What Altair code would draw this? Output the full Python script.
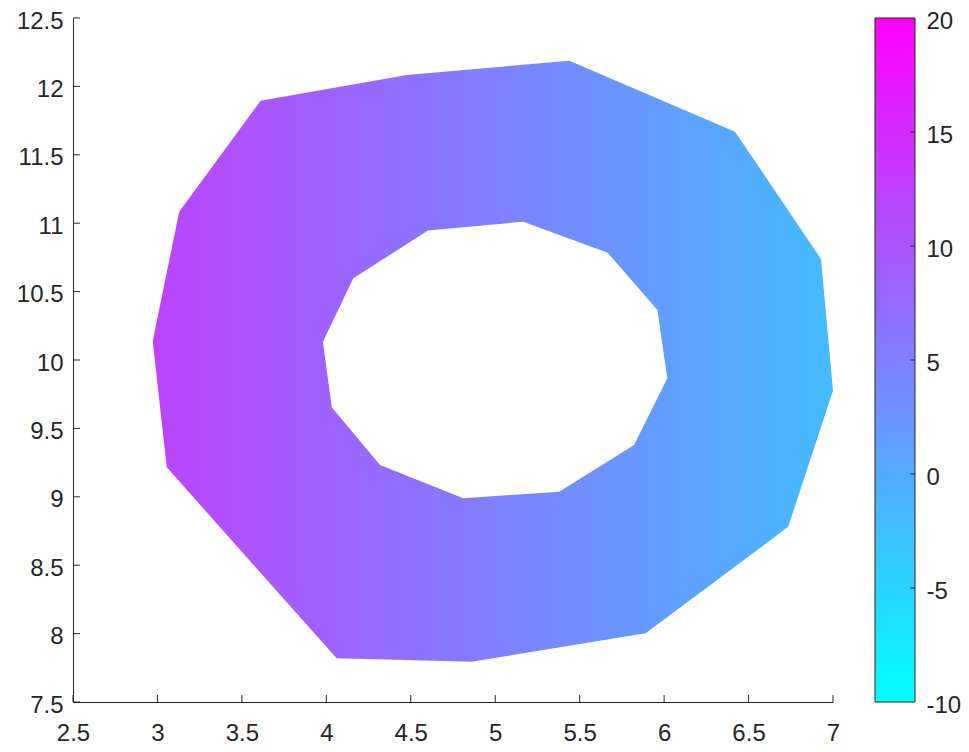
import altair as alt
import pandas as pd

# ---------------- data ----------------
# outer boundary of the patch (data units)
outer_x = [3.611, 4.476, 5.439, 6.420, 6.929, 7.000, 6.735, 5.891, 4.861, 4.061, 3.055, 2.972, 3.129]
outer_y = [11.895, 12.083, 12.188, 11.669, 10.738, 9.776, 8.781, 8.002, 7.795, 7.819, 9.216, 10.139, 11.084]
# inner boundary (hole)
inner_x = [4.602, 5.166, 5.666, 5.960, 6.019, 5.822, 5.379, 4.811, 4.318, 4.032, 3.980, 4.160]
inner_y = [10.947, 11.011, 10.784, 10.365, 9.866, 9.379, 9.037, 8.989, 9.232, 9.654, 10.134, 10.597]

# colour data at the left-most and right-most edge of the patch
cdata_left = 12.1
cdata_right = -2.0
clim = [-10, 20]

x_domain = [2.5, 7]
y_domain = [7.5, 12.5]
x_ticks = [2.5, 3, 3.5, 4, 4.5, 5, 5.5, 6, 6.5, 7]
y_ticks = [7.5, 8, 8.5, 9, 9.5, 10, 10.5, 11, 11.5, 12, 12.5]
cbar_ticks = [-10, -5, 0, 5, 10, 15, 20]

# ---------------- styling ----------------
W, H = 760, 684
CB_GAP, CB_W = 42, 40
AX = "#262626"
FONT = "Liberation Sans"
FS = 24
TICK = 7


def cool(v):
    t = (v - clim[0]) / (clim[1] - clim[0])
    t = min(max(t, 0.0), 1.0)
    r = int(round(255 * t))
    g = int(round(255 * (1 - t)))
    return "#{:02x}{:02x}{:02x}".format(r, g, 255)


sx = W / (x_domain[1] - x_domain[0])
sy = H / (y_domain[1] - y_domain[0])
k = sy / sx

ring_out = [[x, y * k] for x, y in zip(outer_x, outer_y)]
ring_out.append(ring_out[0])
ring_in = [[x, y * k] for x, y in zip(inner_x, inner_y)][::-1]
ring_in.append(ring_in[0])

geo = {
    "type": "FeatureCollection",
    "features": [
        {"type": "Feature", "properties": {},
         "geometry": {"type": "Polygon", "coordinates": [ring_out, ring_in]}}
    ],
}

patch = alt.Chart(
    alt.Data(values=geo, format=alt.DataFormat(property="features", type="json"))
).mark_geoshape(
    fill=alt.LinearGradient(
        gradient="linear", x1=0, y1=0, x2=1, y2=0,
        stops=[alt.GradientStop(offset=0, color=cool(cdata_left)),
               alt.GradientStop(offset=1, color=cool(cdata_right))],
    ),
    strokeWidth=0,
).project(
    type="identity", reflectY=True, scale=sx,
    translate=[-x_domain[0] * sx, y_domain[1] * sy],
)

x_axis = alt.Axis(values=x_ticks, labelExpr="'' + datum.value", ticks=False, tickSize=0,
                  grid=False, domainColor=AX, domainWidth=1, labelColor=AX,
                  labelFontSize=FS, labelFont=FONT, labelPadding=19, title="",
                  labelFlush=False, labelOverlap=False)
y_axis = alt.Axis(values=y_ticks, labelExpr="'' + datum.value", ticks=False, tickSize=0,
                  grid=False, domainColor=AX, domainWidth=1, labelColor=AX,
                  labelFontSize=FS, labelFont=FONT, labelPadding=10, labelOffset=3,
                  title="", labelFlush=False, labelOverlap=False, orient="left")

xt = alt.Chart(pd.DataFrame({"xt": x_ticks})).mark_rule(color=AX, strokeWidth=1).encode(
    x=alt.X("xt:Q", scale=alt.Scale(domain=x_domain, nice=False, zero=False), axis=x_axis),
    y=alt.value(H), y2=alt.value(H - TICK),
)
yt = alt.Chart(pd.DataFrame({"yt": y_ticks})).mark_rule(color=AX, strokeWidth=1).encode(
    y=alt.Y("yt:Q", scale=alt.Scale(domain=y_domain, nice=False, zero=False), axis=y_axis),
    x=alt.value(0), x2=alt.value(TICK),
)

main = alt.layer(patch, xt, yt)

# ---------------- colorbar ----------------
cb_axis = alt.Axis(values=cbar_ticks, labelExpr="'' + datum.value", orient="right",
                   offset=CB_GAP + CB_W, ticks=False, tickSize=0, domain=False, grid=False,
                   labelColor=AX, labelFontSize=FS, labelFont=FONT, labelPadding=11,
                   labelOffset=3, title="", labelFlush=False, labelOverlap=False)
cb_scale = alt.Scale(domain=clim, nice=False, zero=False)

cb_rect = alt.Chart(pd.DataFrame({"lo": [clim[0]], "hi": [clim[1]]})).mark_rect(
    fill=alt.LinearGradient(
        gradient="linear", x1=0, y1=1, x2=0, y2=0,
        stops=[alt.GradientStop(offset=0, color=cool(clim[0])),
               alt.GradientStop(offset=1, color=cool(clim[1]))],
    ),
    stroke=AX, strokeWidth=1,
).encode(
    y=alt.Y("lo:Q", scale=cb_scale, axis=cb_axis), y2="hi:Q",
    x=alt.value(W + CB_GAP), x2=alt.value(W + CB_GAP + CB_W),
)
cb_ticks = alt.Chart(pd.DataFrame({"ct": cbar_ticks[1:-1]})).mark_rule(color=AX, strokeWidth=1).encode(
    y=alt.Y("ct:Q", scale=cb_scale),
    x=alt.value(W + CB_GAP + CB_W - 5), x2=alt.value(W + CB_GAP + CB_W),
)
cbar = alt.layer(cb_rect, cb_ticks)

chart = alt.layer(main, cbar).resolve_scale(y="independent").properties(
    width=W, height=H,
    autosize=alt.AutoSizeParams(type="none"),
    padding={"left": 65, "top": 10, "right": 128, "bottom": 42},
    background="white",
).configure_view(strokeWidth=0)

chart.save("out.html", embed_options={"renderer": "svg", "actions": False})
